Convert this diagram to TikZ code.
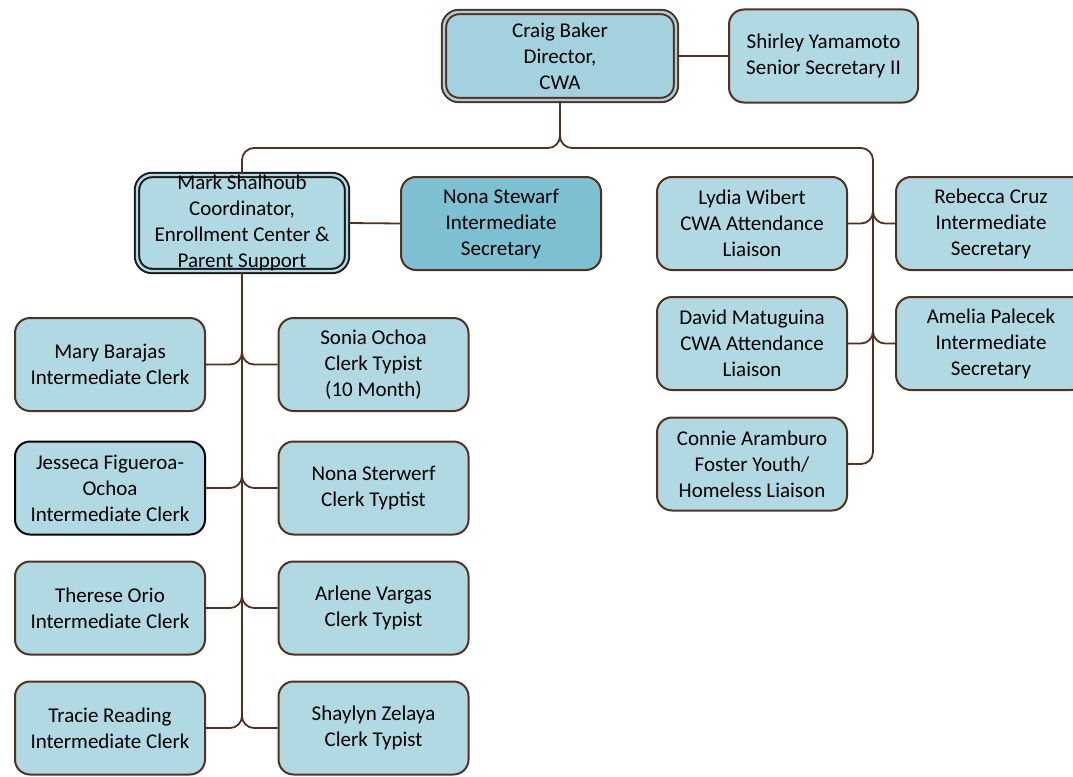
\documentclass[tikz,border=0pt]{standalone}
\usepackage{fontspec}
\setmainfont{Carlito}
\definecolor{boxblue}{HTML}{B0D9E3}
\definecolor{topblue}{HTML}{A3D1DD}
\definecolor{darkblue}{HTML}{7DC0D2}
\definecolor{linebrown}{HTML}{56301F}

\begin{document}
\begin{tikzpicture}[x=1pt,y=-1pt,
    person/.style={rectangle,rounded corners=15pt,draw=linebrown,line width=2pt,
      fill=boxblue,minimum width=190pt,minimum height=93pt,align=center,inner sep=1pt,
      font=\fontsize{21}{26}\selectfont},
    boss/.style={person,fill=topblue,double=topblue,double distance=2.4pt,line width=2pt},
    link/.style={draw=linebrown,line width=1.8pt,rounded corners=12pt}]
\useasboundingbox (0,0) rectangle (1073,776);

\node [boss,minimum width=232pt,minimum height=88pt] (craig) at (560,56) {Craig Baker\\Director,\\CWA};
\node [person,minimum width=189pt] (shirley) at (823.5,56) {Shirley Yamamoto\\Senior Secretary II};

\node [boss,draw=black!90,fill=boxblue,double=boxblue,minimum width=210pt,minimum height=94pt,inner ysep=0pt] (mark) at (242,223)
  {Mark Shalhoub\\Coordinator,\\Enrollment Center \&\\Parent Support};
\node [person,fill=darkblue,minimum width=200pt] (nona) at (501,223.5) {Nona Stewarf\\Intermediate\\Secretary};

% left column
\node [person] (mary) at (110,364.5) {Mary Barajas\\Intermediate Clerk};
\node [person,draw=black] (jesseca) at (110,488) {Jesseca Figueroa-\\Ochoa\\Intermediate Clerk};
\node [person] (therese) at (110,608) {Therese Orio\\Intermediate Clerk};
\node [person] (tracie) at (110,728) {Tracie Reading\\Intermediate Clerk};

\node [person] (sonia) at (373.5,364.5) {Sonia Ochoa\\Clerk Typist\\(10 Month)};
\node [person] (sterwerf) at (373.5,488) {Nona Sterwerf\\Clerk Typtist};
\node [person] (arlene) at (373.5,608) {Arlene Vargas\\Clerk Typist};
\node [person] (shaylyn) at (373.5,728) {Shaylyn Zelaya\\Clerk Typist};

% right side
\node [person] (lydia) at (752,223.5) {Lydia Wibert\\CWA Attendance\\Liaison};
\node [person] (david) at (752,343.5) {David Matuguina\\CWA Attendance\\Liaison};
\node [person] (connie) at (752,464) {Connie Aramburo\\Foster Youth/\\Homeless Liaison};
\node [person] (rebecca) at (991,223.5) {Rebecca Cruz\\Intermediate\\Secretary};
\node [person] (amelia) at (991,343.5) {Amelia Palecek\\Intermediate\\Secretary};

\coordinate (split) at (560,148);
\coordinate (rtrunk) at (873,148);

\draw [link] (craig.east) -- (shirley.west);
\draw [link] (mark.east) -- (nona.west);
\draw [link] (craig.south) -- (split) -| (mark.north);
\draw [link] (craig.south) -- (split) -- (rtrunk) |- (connie.east);

\draw [link] (mark.south) -- ([yshift=14pt]mark.south |- tracie.east);
\foreach \l/\r in {mary/sonia,jesseca/sterwerf,therese/arlene,tracie/shaylyn}{
  \draw [link] ([yshift=14pt]mark.south |- \l.east) |- (\l.east);
  \draw [link] ([yshift=14pt]mark.south |- \r.west) |- (\r.west);
}
\foreach \l/\r in {lydia/rebecca,david/amelia}{
  \draw [link] ([yshift=14pt]rtrunk |- \l.east) |- (\l.east);
  \draw [link] ([yshift=14pt]rtrunk |- \r.west) |- (\r.west);
}
\end{tikzpicture}
\end{document}
